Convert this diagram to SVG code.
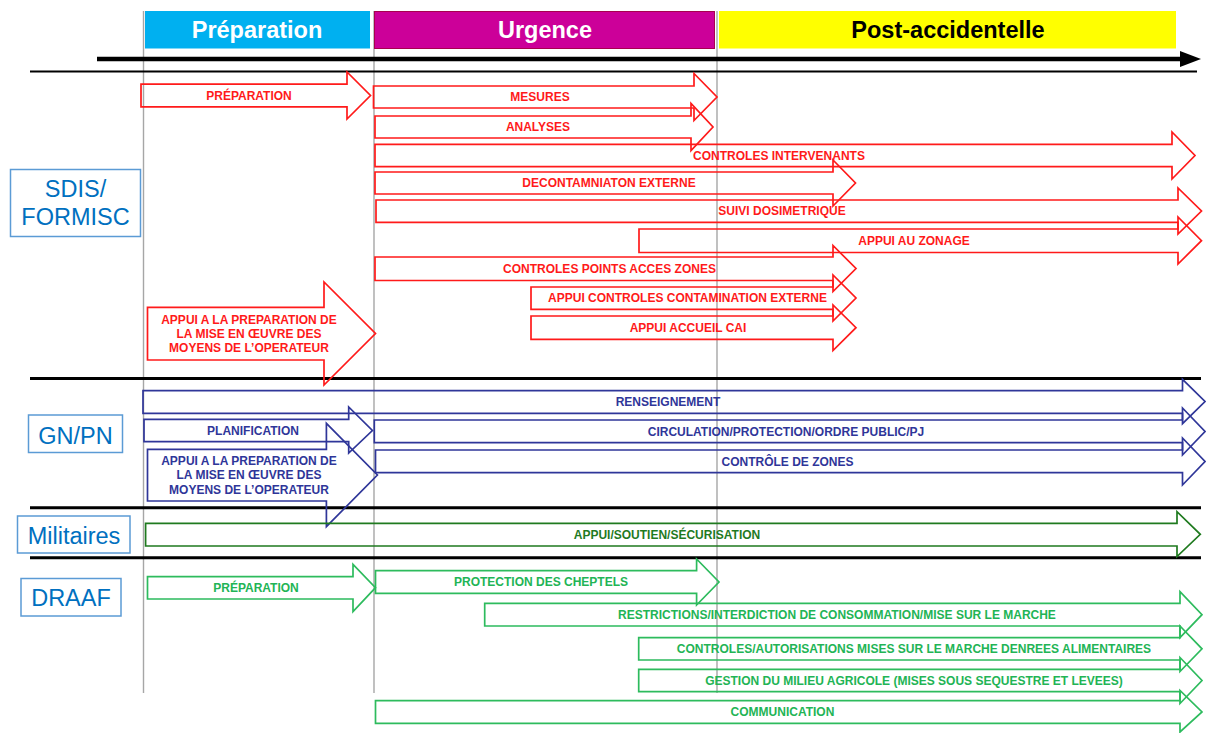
<svg xmlns="http://www.w3.org/2000/svg" width="1206" height="733" viewBox="0 0 1206 733">
<style>
.bg{fill:#ffffff}
.vl{stroke:#a6a6a6;stroke-width:1.4;fill:none}
.sep{stroke:#000;stroke-width:3;fill:none}
.hd{font-family:"Liberation Sans",Arial,sans-serif;font-weight:bold;font-size:23.5px;text-anchor:middle}
.lane rect{fill:#fff;stroke:#5b9bd5;stroke-width:1.5}
.lane text{font-family:"Liberation Sans",Arial,sans-serif;font-size:23.5px;fill:#0070c0;text-anchor:middle}
.ar polygon{fill:none;stroke-width:1.7;stroke-linejoin:miter}
.ar text{font-family:"Liberation Sans",Arial,sans-serif;font-weight:bold;font-size:12px;text-anchor:middle}
.red polygon{stroke:#ff1a1a}.red text{fill:#ff1a1a}
.blue polygon{stroke:#2f3699}.blue text{fill:#2f3699}
.dg polygon{stroke:#1f7a1f}.dg text{fill:#1f7a1f}
.lg polygon{stroke:#2dbb5d}.lg text{fill:#22b455}
</style>
<rect class="bg" x="0" y="0" width="1206" height="733"/>

<g id="grid">
<line class="vl" x1="143.5" y1="11" x2="143.5" y2="693"/>
<line class="vl" x1="374" y1="11" x2="374" y2="693"/>
<line class="vl" x1="717" y1="11" x2="717" y2="693"/>
</g>

<g id="header">
<rect x="145" y="11" width="225" height="37.5" fill="#00b0f0"/>
<text class="hd" x="257" y="38" fill="#ffffff">Préparation</text>
<rect x="374.5" y="11.5" width="340" height="37" fill="#cc0099" stroke="#a8004f" stroke-width="1"/>
<text class="hd" x="545" y="38" fill="#ffffff">Urgence</text>
<rect x="719" y="11" width="457" height="37.5" fill="#ffff00"/>
<text class="hd" x="948" y="38" fill="#000000">Post-accidentelle</text>
<line x1="97" y1="59" x2="1184" y2="59" stroke="#000" stroke-width="4.5"/>
<polygon points="1180,51 1201,59 1180,67" fill="#000"/>
<line x1="30" y1="71.5" x2="1197" y2="71.5" stroke="#000" stroke-width="2.2"/>
<line class="sep" x1="30" y1="378.5" x2="1201" y2="378.5"/>
<line class="sep" x1="30" y1="507.8" x2="1201" y2="507.8"/>
<line class="sep" x1="30" y1="557.8" x2="1201" y2="557.8"/>
</g>

<g id="lane-sdis" class="lane">
<rect x="10.5" y="169.5" width="130" height="67"/>
<text x="75.5" y="197">SDIS/</text>
<text x="75.5" y="224.5">FORMISC</text>
</g>
<g id="lane-gnpn" class="lane">
<rect x="28.5" y="415" width="94" height="37.5"/>
<text x="75.5" y="443.5">GN/PN</text>
</g>
<g id="lane-militaires" class="lane">
<rect x="17.5" y="516" width="112.5" height="37"/>
<text x="74" y="543.5">Militaires</text>
</g>
<g id="lane-draaf" class="lane">
<rect x="21" y="578.5" width="100" height="37.5"/>
<text x="71" y="606">DRAAF</text>
</g>

<g id="connectors">
<g id="sdis-preparation" class="ar red">
<polygon points="141,84.2 347,84.2 347,72 370.5,95.5 347,119 347,106.8 141,106.8"/>
<text x="249" y="99.7">PRÉPARATION</text>
</g>
<g id="sdis-mesures" class="ar red">
<polygon points="373.5,86 694,86 694,73.5 717,97 694,120.5 694,108 373.5,108"/>
<text x="540" y="101.2">MESURES</text>
</g>
<g id="sdis-analyses" class="ar red">
<polygon points="375,116 691,116 691,103.5 713,127 691,150.5 691,138 375,138"/>
<text x="538" y="131.2">ANALYSES</text>
</g>
<g id="sdis-controles-intervenants" class="ar red">
<polygon points="375,144.3 1172,144.3 1172,132 1195,155.5 1172,179 1172,166.7 375,166.7"/>
<text x="779" y="159.9">CONTROLES INTERVENANTS</text>
</g>
<g id="sdis-decontamination" class="ar red">
<polygon points="375,172 833,172 833,160 855.5,183 833,206 833,194 375,194"/>
<text x="609" y="187.2">DECONTAMNIATON EXTERNE</text>
</g>
<g id="sdis-suivi" class="ar red">
<polygon points="376,200 1178,200 1178,188 1201.5,211 1178,234 1178,222.3 376,222.3"/>
<text x="782" y="215.4">SUIVI DOSIMETRIQUE</text>
</g>
<g id="sdis-zonage" class="ar red">
<polygon points="639,229 1178,229 1178,217 1201.5,240.7 1178,264 1178,252.5 639,252.5"/>
<text x="914" y="245">APPUI AU ZONAGE</text>
</g>
<g id="sdis-points-acces" class="ar red">
<polygon points="375,257 833,257 833,245.5 856,268.5 833,291.5 833,280.5 375,280.5"/>
<text x="609.5" y="272.8">CONTROLES POINTS ACCES ZONES</text>
</g>
<g id="sdis-contamination" class="ar red">
<polygon points="531,287 833,287 833,275 856,298 833,321 833,309.3 531,309.3"/>
<text x="687.5" y="302.4">APPUI CONTROLES CONTAMINATION EXTERNE</text>
</g>
<g id="sdis-cai" class="ar red">
<polygon points="531,316 833,316 833,305 856,327.7 833,350.5 833,339.3 531,339.3"/>
<text x="688" y="332">APPUI ACCUEIL CAI</text>
</g>
<g id="sdis-appui-operateur" class="ar red">
<polygon points="147.5,307.3 324,307.3 324,282 375.5,333.5 324,385 324,360 147.5,360"/>
<text x="249" y="323.7">APPUI A LA PREPARATION DE</text>
<text x="249" y="337.9">LA MISE EN ŒUVRE DES</text>
<text x="249" y="352.1">MOYENS DE L’OPERATEUR</text>
</g>

<g id="gn-renseignement" class="ar blue">
<polygon points="143,390.7 1182.5,390.7 1182.5,379.3 1205,401.5 1182.5,423.7 1182.5,413.3 143,413.3"/>
<text x="668" y="405.8">RENSEIGNEMENT</text>
</g>
<g id="gn-planification" class="ar blue">
<polygon points="144,419.3 348.7,419.3 348.7,407 372.4,430.5 348.7,453 348.7,441.7 144,441.7"/>
<text x="253" y="434.8">PLANIFICATION</text>
</g>
<g id="gn-circulation" class="ar blue">
<polygon points="374.3,420 1182.5,420 1182.5,408 1205,431.5 1182.5,455 1182.5,442.7 374.3,442.7"/>
<text x="786" y="435.8">CIRCULATION/PROTECTION/ORDRE PUBLIC/PJ</text>
</g>
<g id="gn-controle-zones" class="ar blue">
<polygon points="375.5,450 1182.5,450 1182.5,438 1205,461.5 1182.5,485 1182.5,472.7 375.5,472.7"/>
<text x="787.5" y="465.6">CONTRÔLE DE ZONES</text>
</g>
<g id="gn-appui-operateur" class="ar blue">
<polygon points="147.5,449.3 326.4,449.3 326.4,423.3 377.4,475 326.4,526.7 326.4,501 147.5,501"/>
<text x="249" y="465.2">APPUI A LA PREPARATION DE</text>
<text x="249" y="479.4">LA MISE EN ŒUVRE DES</text>
<text x="249" y="493.6">MOYENS DE L’OPERATEUR</text>
</g>

<g id="mil-appui" class="ar dg">
<polygon points="145.6,523.3 1177,523.3 1177,511.7 1200.3,534.3 1177,556.5 1177,546 145.6,546"/>
<text x="667" y="538.6">APPUI/SOUTIEN/SÉCURISATION</text>
</g>

<g id="draaf-preparation" class="ar lg">
<polygon points="147.5,576.7 353,576.7 353,564.3 375.5,587.7 353,611.7 353,599 147.5,599"/>
<text x="256" y="592">PRÉPARATION</text>
</g>
<g id="draaf-cheptels" class="ar lg">
<polygon points="375.5,570.7 696.6,570.7 696.6,559 719,582 696.6,605 696.6,593.3 375.5,593.3"/>
<text x="541" y="586.2">PROTECTION DES CHEPTELS</text>
</g>
<g id="draaf-restrictions" class="ar lg">
<polygon points="484.7,603.3 1180,603.3 1180,591.7 1202,614.7 1180,637.7 1180,626 484.7,626"/>
<text x="837" y="619">RESTRICTIONS/INTERDICTION DE CONSOMMATION/MISE SUR LE MARCHE</text>
</g>
<g id="draaf-controles" class="ar lg">
<polygon points="638.7,637.7 1180,637.7 1180,626 1202,648.8 1180,671.5 1180,660 638.7,660"/>
<text x="914" y="653">CONTROLES/AUTORISATIONS MISES SUR LE MARCHE DENREES ALIMENTAIRES</text>
</g>
<g id="draaf-gestion" class="ar lg">
<polygon points="638.7,669.3 1180,669.3 1180,657.5 1202,680.5 1180,703.5 1180,691.7 638.7,691.7"/>
<text x="914" y="684.7">GESTION DU MILIEU AGRICOLE (MISES SOUS SEQUESTRE ET LEVEES)</text>
</g>
<g id="draaf-communication" class="ar lg">
<polygon points="375.5,700.7 1180,700.7 1180,690.5 1202,712 1180,732 1180,723.3 375.5,723.3"/>
<text x="782.5" y="716.2">COMMUNICATION</text>
</g>
</g>
</svg>
